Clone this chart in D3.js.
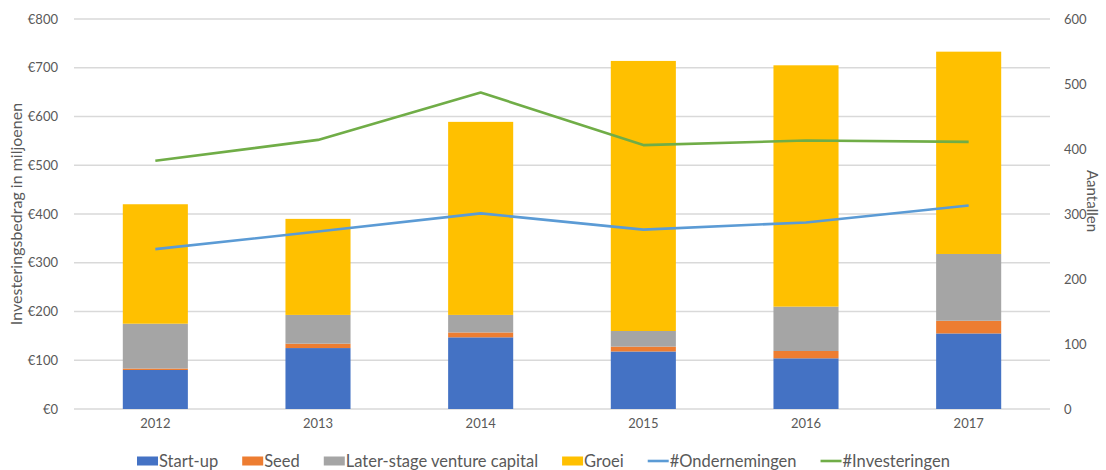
<!DOCTYPE html>
<html><head><meta charset="utf-8">
<script src="https://cdn.jsdelivr.net/npm/d3@7"></script>
<style>body{margin:0;background:#fff}svg{display:block;font-family:Lato,"Open Sans",sans-serif}</style>
</head><body><svg id="c" width="1106" height="470"></svg>
<script>
const years = ["2012","2013","2014","2015","2016","2017"];
const startup = [80,125,147,118,104,155];
const seed = [3,9,10,10,15,26];
const laterStage = [92,59,36,32,91,137];
const groei = [245,197,396,554,495,415];
const ondernemingen = [246,273,301,276,287,313];
const investeringen = [382,414,487,406,413,411];
const leftTicks = [0,100,200,300,400,500,600,700,800];
const rightTicks = [0,100,200,300,400,500,600];
const seriesNames = ["Start-up","Seed","Later-stage venture capital","Groei"];
const lineNames = ["#Ondernemingen","#Investeringen"];
const barColors = ["#4472C4","#ED7D31","#A5A5A5","#FFC000"];
const lineColors = ["#5B9BD5","#70AD47"];

const svg = d3.select("#c");
const L = 74, R = 1050, T = 19, B = 409;
const x = d3.scaleBand().domain(years).range([L,R]).paddingInner(0.6).paddingOuter(0.3);
const y = d3.scaleLinear().domain([0,800]).range([B,T]);
const y2 = d3.scaleLinear().domain([0,600]).range([B,T]);

// gridlines
svg.append("g").selectAll("line").data(leftTicks).join("line")
  .attr("x1",L).attr("x2",R).attr("y1",d=>y(d)).attr("y2",d=>y(d))
  .attr("stroke","#d9d9d9").attr("stroke-width",1.3);

// left axis
const la = svg.append("g").attr("transform",`translate(${L},0)`)
  .call(d3.axisLeft(y).tickValues(leftTicks).tickFormat(d=>"€"+d).tickSize(0).tickPadding(16));
la.select(".domain").remove();
la.selectAll("text").attr("fill","#595959").style("font-size","13px").style("font-family","Lato");

// right axis
const ra = svg.append("g").attr("transform",`translate(${R},0)`)
  .call(d3.axisRight(y2).tickValues(rightTicks).tickSize(0).tickPadding(14));
ra.select(".domain").remove();
ra.selectAll("text").attr("fill","#595959").style("font-size","13px").style("font-family","Lato");

// x axis
const xa = svg.append("g").attr("transform",`translate(0,${B})`)
  .call(d3.axisBottom(x).tickSize(0).tickPadding(10));
xa.select(".domain").remove();
xa.selectAll("text").attr("fill","#595959").style("font-size","13px").style("font-family","Lato");

// stacked bars
const rows = years.map((yr,i)=>({year:yr,s0:startup[i],s1:seed[i],s2:laterStage[i],s3:groei[i]}));
const stack = d3.stack().keys(["s0","s1","s2","s3"])(rows);
svg.append("g").selectAll("g").data(stack).join("g").attr("fill",(d,i)=>barColors[i])
  .selectAll("rect").data(d=>d).join("rect")
  .attr("x",d=>x(d.data.year)).attr("width",x.bandwidth())
  .attr("y",d=>y(d[1])).attr("height",d=>y(d[0])-y(d[1]));

// lines
const line = d3.line().x((d,i)=>x(years[i])+x.bandwidth()/2).y(d=>y2(d));
[ondernemingen,investeringen].forEach((arr,k)=>{
  svg.append("path").datum(arr).attr("d",line).attr("fill","none")
    .attr("stroke",lineColors[k]).attr("stroke-width",2.6).attr("stroke-linejoin","round");
});

// axis titles
svg.append("text").attr("transform","translate(22,214) rotate(-90)").attr("text-anchor","middle")
  .attr("fill","#595959").style("font-size","16px").text("Investeringsbedrag in miljoenen");
svg.append("text").attr("transform","translate(1087,201) rotate(90)").attr("text-anchor","middle")
  .attr("fill","#595959").style("font-size","15px").text("Aantallen");

// legend
const lg = svg.append("g").style("font-size","16.5px");
let lx = 137; const ly = 461;
const items = seriesNames.map((n,i)=>({n,type:"rect",c:barColors[i]}))
  .concat(lineNames.map((n,i)=>({n,type:"line",c:lineColors[i]})));
items.forEach(it=>{
  if(it.type==="rect"){
    lg.append("rect").attr("x",lx).attr("y",ly-4.5).attr("width",21).attr("height",9).attr("fill",it.c);
  } else {
    lg.append("line").attr("x1",lx).attr("x2",lx+21).attr("y1",ly).attr("y2",ly).attr("stroke",it.c).attr("stroke-width",2.6);
  }
  const t = lg.append("text").attr("x",lx+22).attr("y",ly).attr("dy","0.35em").attr("fill","#595959").text(it.n);
  lx += 22 + t.node().getComputedTextLength() + 24;
});
</script></body></html>
